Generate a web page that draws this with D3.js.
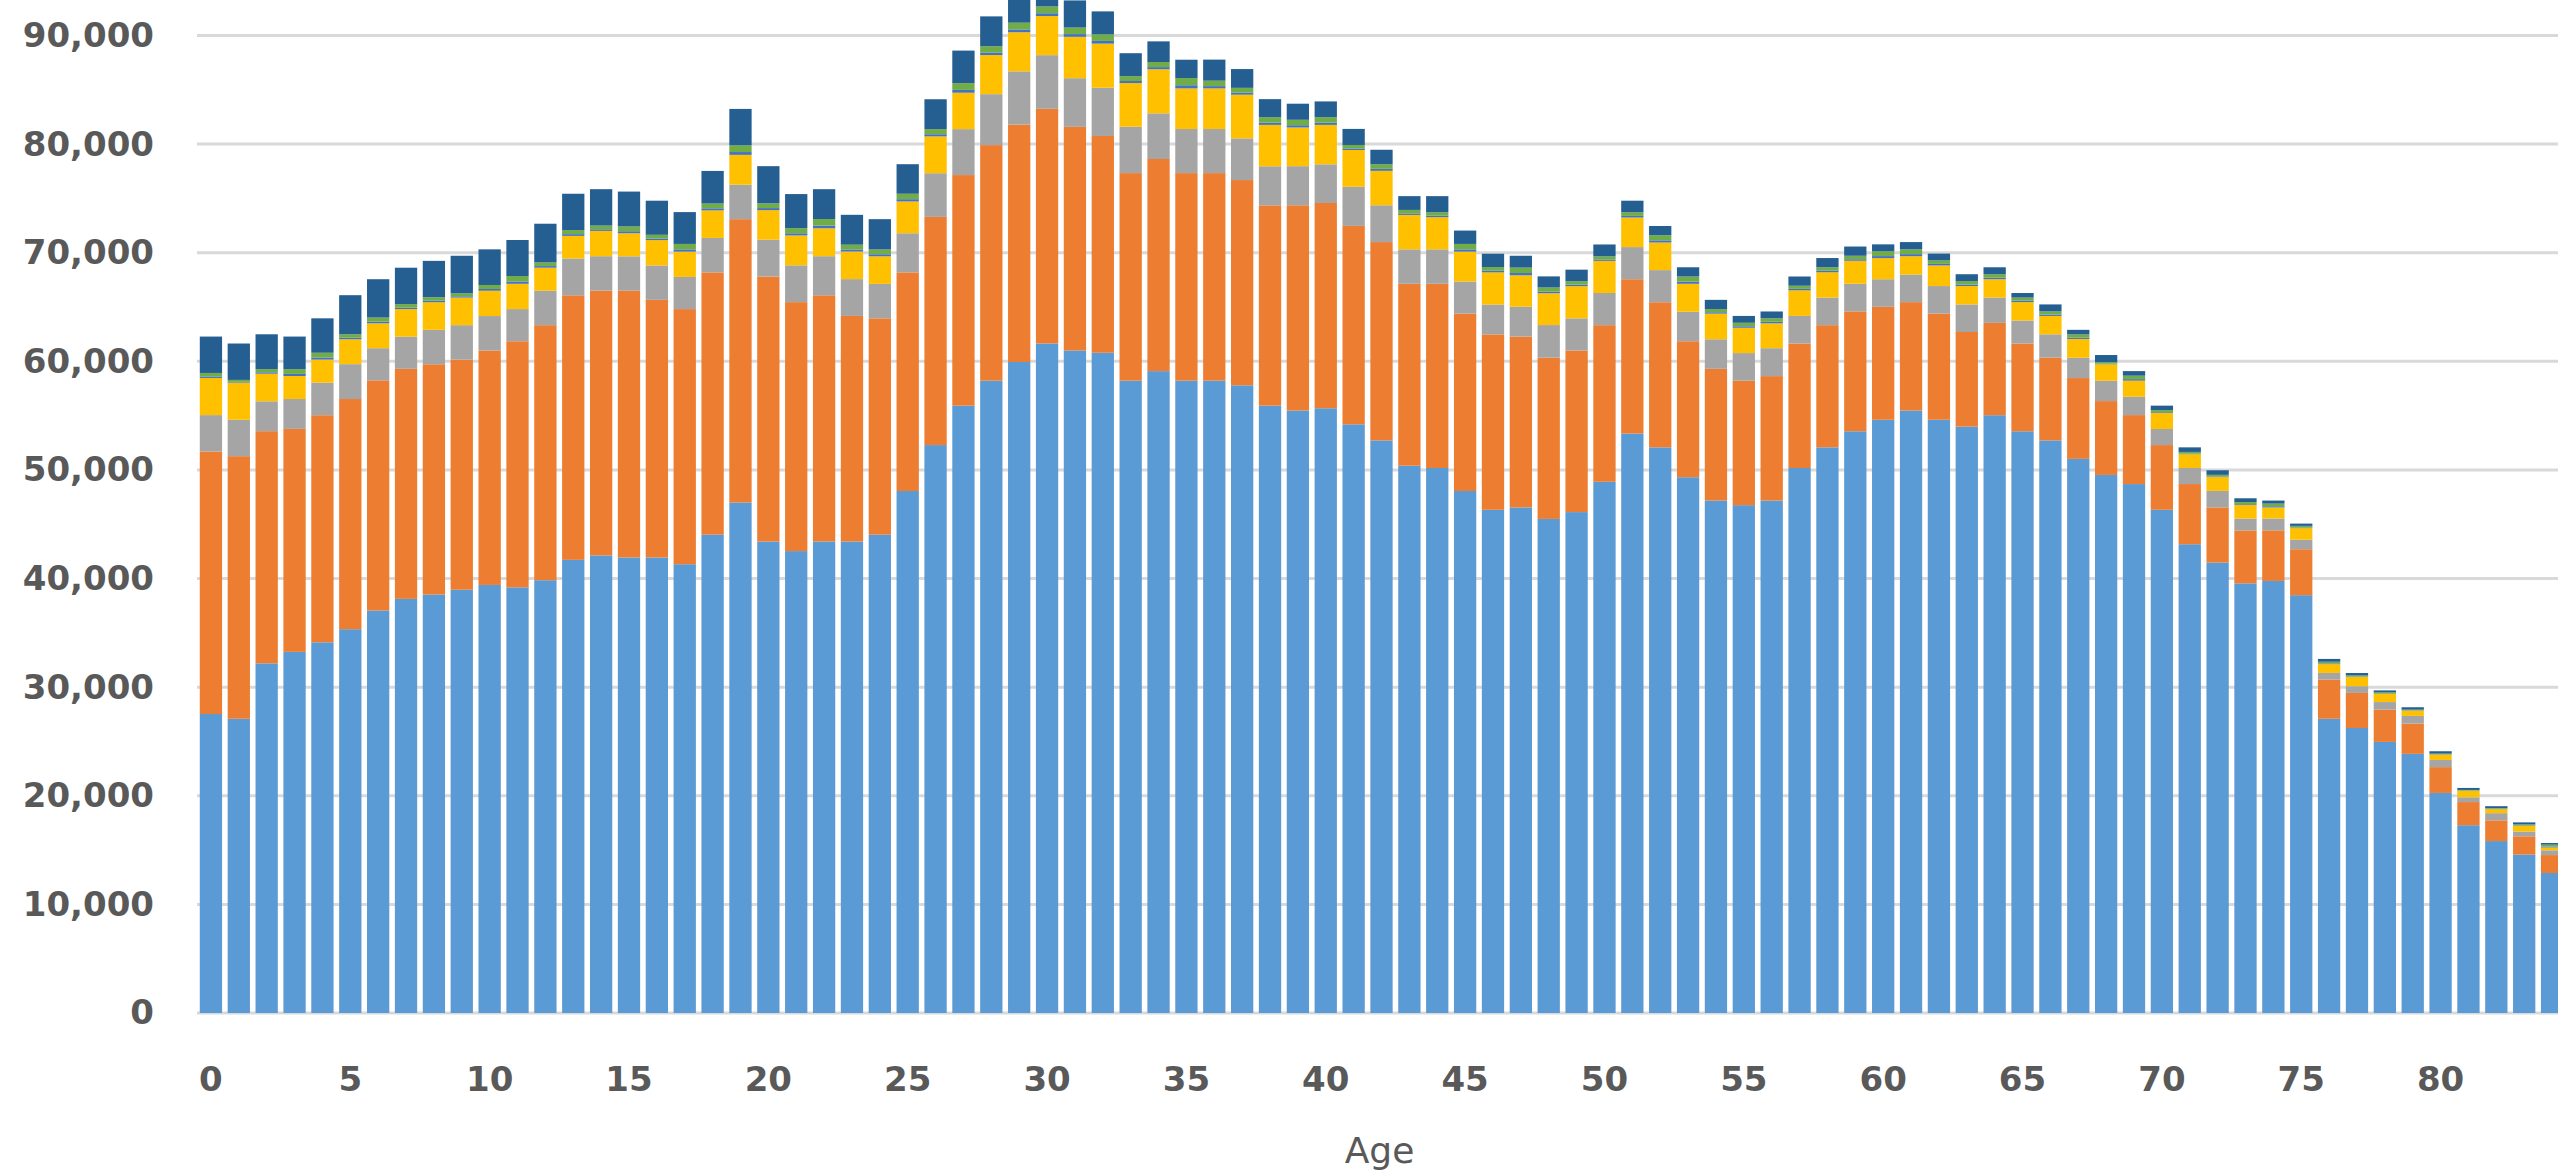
<!DOCTYPE html>
<html>
<head>
  <script src="https://d3js.org/d3.v7.min.js"></script>
  <style>
    body { margin: 0; background: #ffffff; overflow: hidden; }
  </style>
</head>
<body>
<script>
// categories and ticks
var ages = d3.range(0, 85);
var xTickAges = [0, 5, 10, 15, 20, 25, 30, 35, 40, 45, 50, 55, 60, 65, 70, 75, 80];
var yTickValues = [0, 10000, 20000, 30000, 40000, 50000, 60000, 70000, 80000, 90000];

// series, bottom to top of the stack
var seriesKeys = ["s1", "s2", "s3", "s4", "s5", "s6", "s7"];
var seriesColors = ["#5b9bd5", "#ed7d31", "#a5a5a5", "#ffc000", "#4472c4", "#70ad47", "#255e91"];

var s1 = [27530, 27090, 32190, 33250, 34130, 35340, 37060, 38130, 38530, 38970,
          39410, 39190, 39850, 41720, 42130, 41940, 41940, 41320, 44040, 47000,
          43410, 42530, 43410, 43410, 44040, 48060, 52290, 55920, 58220, 59940,
          61640, 61000, 60790, 58220, 59100, 58220, 58220, 57790, 55920, 55470,
          55680, 54200, 52720, 50390, 50180, 48060, 46330, 46550, 45490, 46120,
          48910, 53350, 52080, 49330, 47180, 46760, 47180, 50180, 52080, 53560,
          54620, 55470, 54620, 53990, 55040, 53560, 52720, 51020, 49540, 48700,
          46330, 43160, 41470, 39560, 39780, 38470, 27090, 26240, 24960, 23860,
          20260, 17290, 15830, 14580, 12890];
var s2 = [24170, 24180, 21380, 20530, 20910, 21190, 21190, 21180, 21200, 21190,
          21590, 22660, 23480, 24360, 24380, 24560, 23720, 23490, 24150, 26090,
          24400, 22920, 22670, 20770, 19920, 20130, 21010, 21230, 21690, 21860,
          21610, 20590, 19960, 19110, 19530, 19110, 19110, 18900, 18440, 18900,
          18900, 18270, 18260, 16750, 16960, 16330, 16150, 15730, 14850, 14880,
          14420, 14210, 13360, 12520, 12130, 11460, 11460, 11460, 11250, 11040,
          10400, 9980, 9770, 8710, 8500, 8080, 7620, 7440, 6800, 6350,
          5960, 5540, 5080, 4870, 4660, 4230, 3600, 3230, 2970, 2790,
          2380, 2130, 1910, 1690, 1650];
var s3 = [3350, 3350, 2750, 2750, 3000, 3210, 2960, 2960, 3170, 3170,
          3170, 2960, 3170, 3390, 3170, 3170, 3170, 2960, 3170, 3170,
          3390, 3390, 3600, 3390, 3170, 3600, 4020, 4230, 4690, 4900,
          4940, 4480, 4440, 4270, 4200, 4060, 4060, 3840, 3600, 3600,
          3560, 3600, 3390, 3170, 3170, 2960, 2750, 2750, 3000, 2960,
          2960, 2960, 2960, 2720, 2720, 2540, 2570, 2540, 2540, 2540,
          2540, 2540, 2540, 2540, 2330, 2120, 2150, 1870, 1870, 1690,
          1480, 1480, 1520, 1090, 1090, 880, 620, 620, 700, 700,
          660, 440, 660, 440, 440];
var s4 = [3420, 3420, 2540, 2120, 2120, 2290, 2290, 2540, 2540, 2540,
          2330, 2330, 2120, 2080, 2330, 2120, 2330, 2330, 2540, 2750,
          2720, 2750, 2570, 2540, 2540, 2930, 3390, 3350, 3600, 3600,
          3600, 3810, 4060, 4020, 4060, 3740, 3740, 4020, 3810, 3560,
          3630, 3390, 3170, 3170, 2960, 2750, 2960, 2890, 2930, 2960,
          2960, 2720, 2540, 2570, 2360, 2330, 2290, 2360, 2330, 2120,
          1940, 1690, 1900, 1690, 1690, 1690, 1690, 1730, 1520, 1480,
          1480, 1270, 1270, 1270, 1020, 1060, 810, 840, 770, 480,
          480, 590, 370, 510, 260];
var s5 = [140, 70, 130, 190, 190, 140, 160, 140, 140, 120,
          160, 210, 150, 160, 150, 190, 150, 210, 190, 260,
          190, 200, 250, 190, 190, 210, 200, 260, 240, 260,
          260, 250, 250, 190, 200, 290, 210, 190, 210, 210,
          210, 140, 180, 140, 140, 210, 150, 210, 160, 140,
          130, 150, 200, 200, 130, 140, 140, 130, 140, 140,
          190, 190, 140, 140, 140, 130, 130, 130, 60, 140,
          70, 60, 60, 70, 110, 60, 70, 40, 50, 30,
          30, 30, 30, 40, 80];
var s6 = [320, 180, 290, 440, 440, 320, 370, 320, 320, 270,
          370, 500, 340, 370, 340, 440, 340, 500, 440, 620,
          440, 470, 600, 440, 440, 500, 470, 620, 570, 620,
          620, 600, 600, 440, 470, 660, 500, 440, 500, 500,
          500, 320, 420, 320, 320, 500, 340, 500, 370, 320,
          290, 340, 470, 470, 290, 320, 320, 290, 320, 320,
          440, 440, 320, 320, 320, 290, 290, 290, 150, 320,
          180, 150, 150, 180, 240, 150, 150, 110, 100, 70,
          70, 60, 60, 110, 180];
var s7 = [3350, 3350, 3210, 3000, 3170, 3600, 3530, 3350, 3350, 3460,
          3280, 3320, 3560, 3350, 3350, 3210, 3140, 2930, 3000, 3350,
          3420, 3140, 2750, 2750, 2790, 2720, 2750, 3000, 2750, 2800,
          2600, 2500, 2120, 2120, 1900, 1690, 1940, 1730, 1660, 1480,
          1450, 1480, 1340, 1270, 1480, 1230, 1230, 1090, 1020, 1060,
          1090, 1060, 850, 850, 850, 630, 630, 850, 850, 850,
          640, 670, 630, 630, 640, 420, 640, 420, 640, 420,
          420, 420, 420, 350, 280, 210, 260, 220, 150, 220,
          220, 180, 180, 180, 150];
var seriesValues = [s1, s2, s3, s4, s5, s6, s7];

// dimensions
var width = 2558, height = 1174;
var plot = {left: 197, right: 2566, top: 35.5, bottom: 1013};
var textColor = "#595959";
var gridColor = "#d9d9d9";

var x = d3.scaleBand()
    .domain(ages)
    .range([plot.left, plot.right])
    .paddingInner(0.2)
    .paddingOuter(0.1);
var y = d3.scaleLinear()
    .domain([0, 90000])
    .range([plot.bottom, plot.top]);

// rows for the stack
var rows = ages.map(function(a, i) {
  var r = {age: a};
  seriesKeys.forEach(function(k, j) { r[k] = seriesValues[j][i]; });
  return r;
});
var stacked = d3.stack().keys(seriesKeys)(rows);

var svg = d3.select("body").append("svg")
    .attr("width", width)
    .attr("height", height)
    .style("display", "block");

svg.append("rect")
    .attr("width", width)
    .attr("height", height)
    .attr("fill", "#ffffff");

// horizontal gridlines
svg.append("g")
  .selectAll("line")
  .data(yTickValues)
  .join("line")
    .attr("x1", plot.left)
    .attr("x2", plot.right)
    .attr("y1", d => y(d))
    .attr("y2", d => y(d))
    .attr("stroke", gridColor)
    .attr("stroke-width", 3);

// stacked bars
svg.append("g")
  .selectAll("g")
  .data(stacked)
  .join("g")
    .attr("fill", (d, i) => seriesColors[i])
  .selectAll("rect")
  .data(d => d)
  .join("rect")
    .attr("x", d => x(d.data.age))
    .attr("width", x.bandwidth())
    .attr("y", d => y(d[1]))
    .attr("height", d => Math.max(0, y(d[0]) - y(d[1])));

// y axis labels
var yAxis = svg.append("g")
    .attr("transform", "translate(" + plot.left + ",0)")
    .call(d3.axisLeft(y)
      .tickValues(yTickValues)
      .tickFormat(d3.format(","))
      .tickSize(0)
      .tickPadding(43));
yAxis.select(".domain").remove();
yAxis.selectAll("text")
    .attr("fill", textColor)
    .style("font-family", '"DejaVu Sans", sans-serif')
    .style("font-weight", "bold")
    .style("font-size", "34px");

// x axis labels
var xAxis = svg.append("g")
    .attr("transform", "translate(0," + plot.bottom + ")")
    .call(d3.axisBottom(x)
      .tickValues(xTickAges)
      .tickSize(0)
      .tickPadding(54));
xAxis.select(".domain").remove();
xAxis.selectAll("text")
    .attr("fill", textColor)
    .style("font-family", '"DejaVu Sans", sans-serif')
    .style("font-weight", "bold")
    .style("font-size", "34px");

// axis title
svg.append("text")
    .attr("x", (plot.left + plot.right) / 2 - 2)
    .attr("y", 1163)
    .attr("text-anchor", "middle")
    .attr("fill", textColor)
    .style("font-family", '"DejaVu Sans", sans-serif')
    .style("font-size", "36px")
    .text("Age");
</script>
</body>
</html>
